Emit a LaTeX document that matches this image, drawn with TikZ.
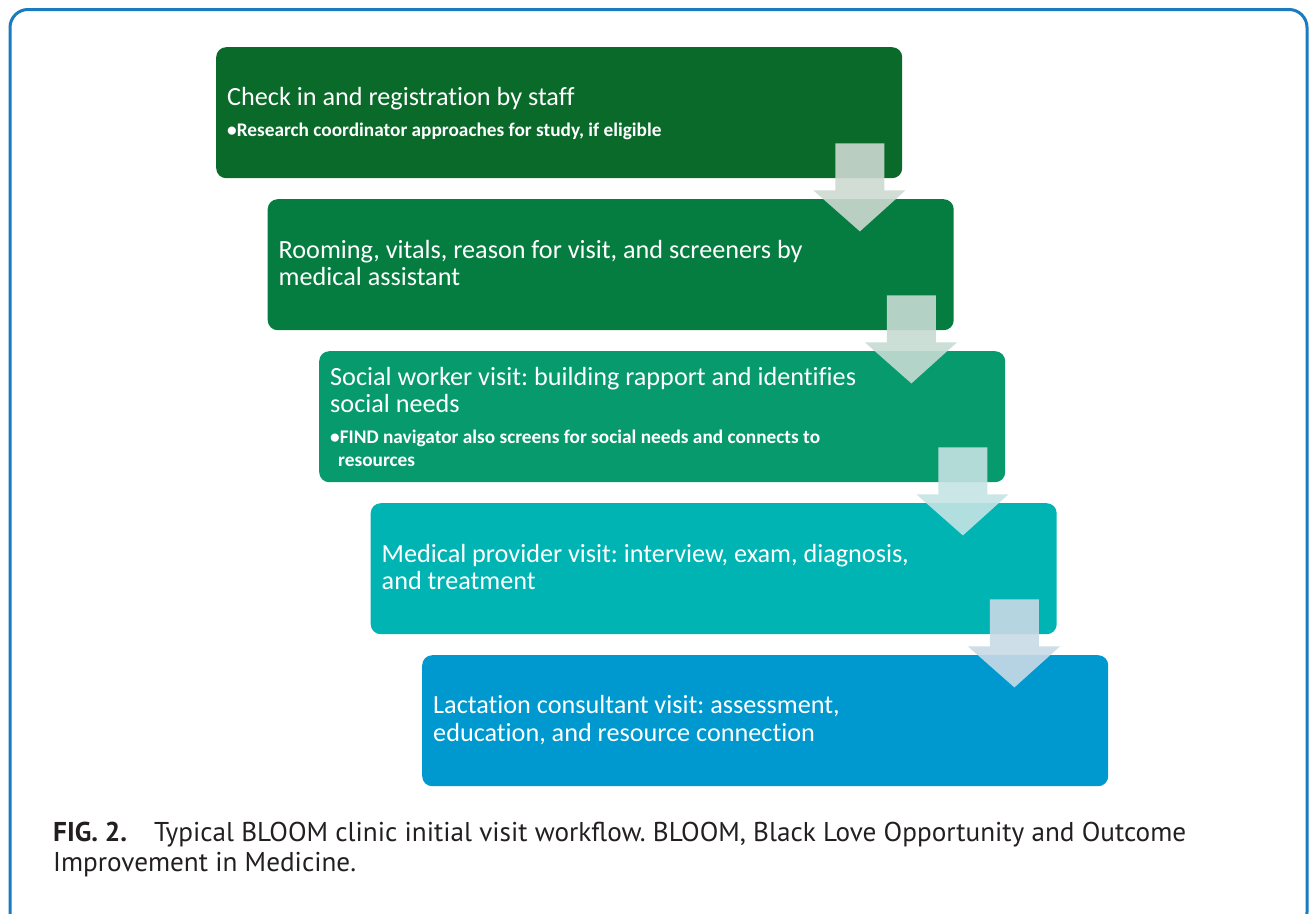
\documentclass[tikz,border=0pt]{standalone}
\usepackage{fontspec}
\setmainfont{Carlito}[Ligatures=NoCommon]
\newfontfamily\capfont{PT Sans}
\usetikzlibrary{calc}
\frenchspacing

\definecolor{frameblue}{HTML}{1A7BBF}
\definecolor{boxA}{HTML}{0A6A2A}
\definecolor{boxB}{HTML}{067D40}
\definecolor{boxC}{HTML}{069A6C}
\definecolor{boxD}{HTML}{00B4B4}
\definecolor{boxE}{HTML}{0099CF}
\definecolor{arrA}{HTML}{CDD9D1}
\definecolor{arrB}{HTML}{C6DBD3}
\definecolor{arrC}{HTML}{C5E3E3}
\definecolor{arrD}{HTML}{C9DAE5}
\definecolor{captext}{HTML}{231F20}

\tikzset{
  stepbox/.style={draw=none, rounded corners=10pt, minimum width=686pt,
    minimum height=131pt, inner sep=0pt, anchor=north west},
  headline/.style={text=white, inner sep=0pt, anchor=base west,
    font=\fontsize{26.2}{29}\selectfont},
  bulletline/.style={text=white, inner sep=0pt, anchor=base west,
    font=\fontsize{19.3}{22}\selectfont\bfseries},
  caption/.style={text=captext, inner sep=0pt, anchor=base west,
    font=\capfont\fontsize{27.2}{30}\selectfont},
  downarrow/.style={fill opacity=0.9, draw=none},
}

% block arrow hanging below the bottom-right part of a box
\newcommand{\stepdown}[2]{%
  \fill[downarrow, fill=#2]
    ($(#1.south east)+(-67,-35)$) -- ($(#1.south east)+(-18,-35)$) --
    ($(#1.south east)+(-18,12)$) -- ($(#1.south east)+(3,12)$) --
    ($(#1.south east)+(-42.5,53)$) -- ($(#1.south east)+(-89,12)$) --
    ($(#1.south east)+(-67,12)$) -- cycle;}

\begin{document}
\begin{tikzpicture}[x=1pt,y=-1pt]
\useasboundingbox (0,0) rectangle (1313,913);
\clip (0,0) rectangle (1313,913);

% outer frame
\draw[frameblue, line width=3pt, rounded corners=18pt] (10,9.5) rectangle (1307,930);

% workflow steps
\node[stepbox, fill=boxA] (b1) at (216,47) {};
\node[stepbox, fill=boxB] (b2) at (267.5,199) {};
\node[stepbox, fill=boxC] (b3) at (319,351) {};
\node[stepbox, fill=boxD] (b4) at (370.5,503) {};
\node[stepbox, fill=boxE] (b5) at (422,655) {};

% arrows between the steps
\stepdown{b1}{arrA}
\stepdown{b2}{arrB}
\stepdown{b3}{arrC}
\stepdown{b4}{arrD}

% step texts
\node[headline] (t1) at ($(b1.north west)+(11,58)$) {Check in and registration by staff};
\node[bulletline] (s1) at ($(b1.north west)+(11,89)$) {•Research coordinator approaches for study, if eligible};

\node[headline] (t2a) at ($(b2.north west)+(11,59)$) {Rooming, vitals, reason for visit, and screeners by};
\node[headline] (t2b) at ($(b2.north west)+(11,86)$) {medical assistant};

\node[headline] (t3a) at ($(b3.north west)+(11,34)$) {Social worker visit: building rapport and identifies};
\node[headline] (t3b) at ($(b3.north west)+(11,61)$) {social needs};
\node[bulletline] (s3a) at ($(b3.north west)+(11,92)$) {•FIND navigator also screens for social needs and connects to};
\node[bulletline] (s3b) at ($(b3.north west)+(19,115)$) {resources};

\node[headline] (t4a) at ($(b4.north west)+(11,59)$) {Medical provider visit: interview, exam, diagnosis,};
\node[headline] (t4b) at ($(b4.north west)+(11,86)$) {and treatment};

\node[headline] (t5a) at ($(b5.north west)+(11,58)$) {Lactation consultant visit: assessment,};
\node[headline] (t5b) at ($(b5.north west)+(11,86)$) {education, and resource connection};

% caption
\node[caption] (c1) at (53,841) {\textbf{FIG. 2.}\hspace{27pt}Typical BLOOM clinic initial visit workflow. BLOOM, Black Love Opportunity and Outcome};
\node[caption] (c2) at (53,871) {Improvement in Medicine.};
\end{tikzpicture}
\end{document}
